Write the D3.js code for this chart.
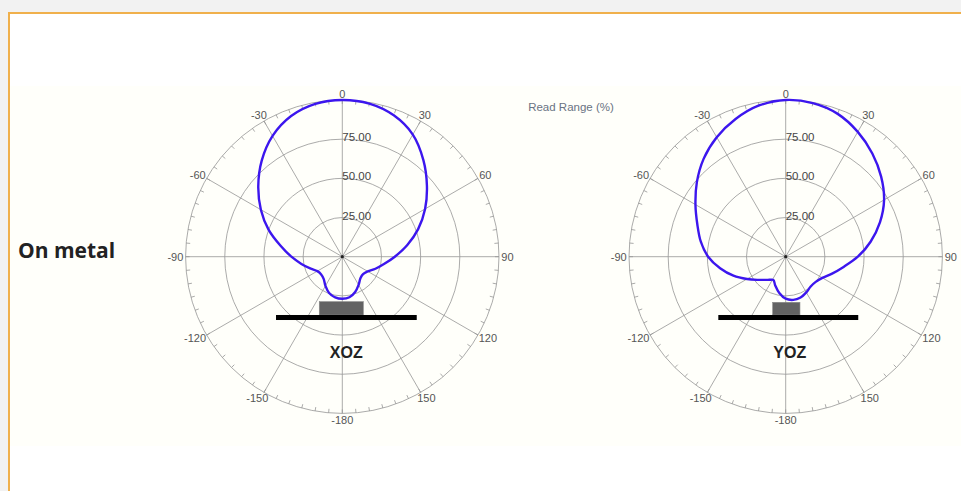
<!DOCTYPE html>
<html>
<head>
<meta charset="utf-8">
<script src="https://cdn.jsdelivr.net/npm/d3@7"></script>
<style>
  body { margin: 0; background: #f2f2f2; }
  svg { display: block; }
</style>
</head>
<body>
<script>
// read range (%) against angle (deg, clockwise from top)
const xozAngles = [-180, -170, -160, -150, -140, -130, -120, -110, -100, -90, -80, -70, -60, -50, -40, -30, -20, -10,
  0, 10, 20, 30, 40, 50, 60, 70, 80, 90, 100, 110, 120, 130, 140, 150, 160, 170]
const xozRange = [26.8, 26.3, 24.6, 21.5, 18.5, 17.6, 18.4, 21.8, 26.5, 32.5, 40, 50, 60, 70, 80, 89, 95.5, 99,
  100, 99.2, 96, 90, 80.5, 70.5, 61, 51.5, 42, 33.5, 27, 22.5, 18.8, 17.3, 18, 20.8, 24, 26.3]

const yozAngles = [-180, -170, -160, -152, -145, -140, -130, -120, -110, -100, -90, -80, -70, -60, -50, -40, -30, -20, -10,
  0, 10, 20, 30, 40, 50, 60, 70, 80, 90, 100, 110, 120, 130, 140, 150, 160, 170]
const yozRange = [26.8, 23.5, 19.5, 16.8, 18, 19.3, 23, 28.5, 35.5, 42.5, 49.5, 55, 60, 66.5, 74, 81.5, 88, 93.5, 98,
  100, 99.5, 97, 92, 86, 79.5, 72.5, 64, 55, 46, 37.5, 31.5, 27, 25, 24.8, 26.3, 27.7, 28]

const ringValues = [25, 50, 75]
const ringLabels = ['25.00', '50.00', '75.00']
const spokeAngles = [0, 30, 60, 90, 120, 150, 180, 210, 240, 270, 300, 330]
const spokeLabels = ['0', '30', '60', '90', '120', '150', '-180', '-150', '-120', '-90', '-60', '-30']
const planeNames = ['XOZ', 'YOZ']
const rowLabel = 'On metal'
const axisTitle = 'Read Range (%)'

const width = 961
const height = 491
const outerR = 156.7
const labelR = 159

const panels = [
  { cx: 342.3, cy: 256.7, angles: xozAngles, values: xozRange, name: planeNames[0],
    chip: [-14.7, 13.4, 28.7, 37.2], base: [-42.3, 47.5, 37.2, 40.4] },
  { cx: 785.7, cy: 256.7, angles: yozAngles, values: yozRange, name: planeNames[1],
    chip: [-8.3, 9.1, 29.1, 37.2], base: [-43, 46.3, 37.2, 40.4] }
]

const rScale = d3.scaleLinear()
  .domain([0, 100])
  .range([0, outerR])

const toRad = d => d * Math.PI / 180

const svg = d3.select('body').append('svg')
  .attr('width', width)
  .attr('height', height)

svg.append('rect')
  .attr('width', width)
  .attr('height', height)
  .attr('fill', '#f2f2f2')

svg.append('rect')
  .attr('x', 9)
  .attr('y', 13)
  .attr('width', width)
  .attr('height', height)
  .attr('fill', '#ffffff')
  .attr('stroke', '#f0b04c')
  .attr('stroke-width', 2)

svg.append('rect')
  .attr('x', 10)
  .attr('y', 86)
  .attr('width', width - 10)
  .attr('height', 360)
  .attr('fill', '#fffffa')

svg.append('text')
  .attr('x', 18)
  .attr('y', 258)
  .attr('font-family', '"Open Sans", sans-serif')
  .attr('font-weight', 700)
  .attr('font-size', 21)
  .attr('fill', '#222')
  .text(rowLabel)

svg.append('text')
  .attr('x', 571)
  .attr('y', 111)
  .attr('text-anchor', 'middle')
  .attr('font-family', '"Liberation Sans", Arial, sans-serif')
  .attr('font-size', 11.5)
  .attr('fill', '#6a7383')
  .text(axisTitle)

const tickAngles = d3.range(0, 360, 5)

const line = d3.lineRadial()
  .angle(d => toRad(d[0]))
  .radius(d => rScale(d[1]))
  .curve(d3.curveCatmullRomClosed.alpha(0.5))

function drawPolar(p) {
  const g = svg.append('g')
    .attr('transform', `translate(${p.cx}, ${p.cy})`)

  g.selectAll('.ring')
    .data(ringValues.concat([100]))
    .join('circle')
    .attr('class', 'ring')
    .attr('r', d => rScale(d))
    .attr('fill', 'none')
    .attr('stroke', '#959595')
    .attr('stroke-width', 0.8)

  g.selectAll('.spoke')
    .data(spokeAngles)
    .join('line')
    .attr('class', 'spoke')
    .attr('x1', 0)
    .attr('y1', 0)
    .attr('x2', d => rScale(100) * Math.sin(toRad(d)))
    .attr('y2', d => -rScale(100) * Math.cos(toRad(d)))
    .attr('stroke', '#959595')
    .attr('stroke-width', 0.8)

  g.selectAll('.tick')
    .data(tickAngles)
    .join('line')
    .attr('class', 'tick')
    .attr('x1', d => (outerR - 4) * Math.sin(toRad(d)))
    .attr('y1', d => -(outerR - 4) * Math.cos(toRad(d)))
    .attr('x2', d => outerR * Math.sin(toRad(d)))
    .attr('y2', d => -outerR * Math.cos(toRad(d)))
    .attr('stroke', '#959595')
    .attr('stroke-width', 0.8)

  // angle labels sit just outside the rim, pushed out by half their size
  g.selectAll('.angle-label')
    .data(spokeAngles)
    .join('text')
    .attr('class', 'angle-label')
    .attr('dy', '0.35em')
    .attr('text-anchor', 'middle')
    .attr('font-family', '"Liberation Sans", Arial, sans-serif')
    .attr('font-size', 11)
    .attr('fill', '#555')
    .text((d, i) => spokeLabels[i])
    .each(function(d) {
      const w = this.getComputedTextLength()
      d3.select(this)
        .attr('x', Math.sin(toRad(d)) * (labelR + w / 2))
        .attr('y', -Math.cos(toRad(d)) * (labelR + 4))
    })

  g.selectAll('.ring-label')
    .data(ringValues)
    .join('text')
    .attr('class', 'ring-label')
    .attr('x', 0)
    .attr('y', d => -rScale(d) + 2)
    .attr('font-family', '"Liberation Sans", Arial, sans-serif')
    .attr('font-size', 11.5)
    .attr('fill', '#444')
    .text((d, i) => ringLabels[i])

  g.append('circle')
    .attr('r', 1.6)
    .attr('fill', '#222')

  // device sketch under the pattern
  g.append('rect')
    .attr('x', rScale(p.chip[0]))
    .attr('y', rScale(p.chip[2]))
    .attr('width', rScale(p.chip[1]) - rScale(p.chip[0]))
    .attr('height', rScale(p.chip[3]) - rScale(p.chip[2]))
    .attr('fill', '#636363')
    .attr('stroke', '#888')
    .attr('stroke-width', 0.6)

  g.append('rect')
    .attr('x', rScale(p.base[0]))
    .attr('y', rScale(p.base[2]))
    .attr('width', rScale(p.base[1]) - rScale(p.base[0]))
    .attr('height', rScale(p.base[3]) - rScale(p.base[2]))
    .attr('fill', '#000')

  g.append('text')
    .attr('x', 4)
    .attr('y', rScale(61))
    .attr('dy', '0.35em')
    .attr('text-anchor', 'middle')
    .attr('font-family', '"Liberation Sans", Arial, sans-serif')
    .attr('font-weight', 700)
    .attr('font-size', 16)
    .attr('fill', '#222')
    .text(p.name)

  const pts = p.angles.map((a, i) => [a, p.values[i]])

  g.append('path')
    .datum(pts)
    .attr('d', line)
    .attr('fill', 'none')
    .attr('stroke', '#3c16ee')
    .attr('stroke-width', 2.4)
}

panels.forEach(drawPolar)
</script>
</body>
</html>
